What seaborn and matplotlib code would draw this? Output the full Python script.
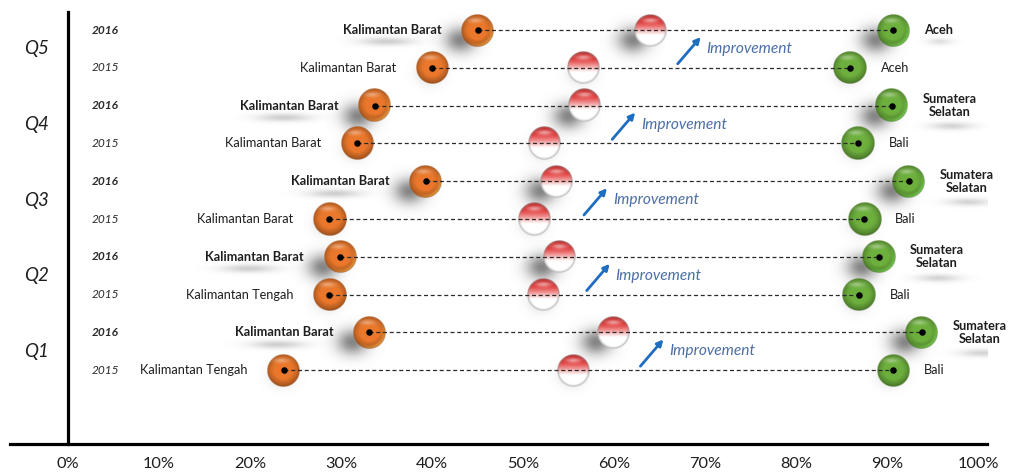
import numpy as np
import pandas as pd
import matplotlib
matplotlib.use("Agg")
import matplotlib.pyplot as plt
import seaborn as sns

# ---- data -------------------------------------------------------------
quarters = ["Q5", "Q4", "Q3", "Q2", "Q1"]
years = ["2016", "2015"]

lowest_2016 = [45.0, 33.7, 39.3, 29.9, 33.1]
lowest_2015 = [40.0, 31.8, 28.7, 28.7, 23.7]
average_2016 = [64.0, 56.8, 53.7, 54.0, 59.9]
average_2015 = [56.6, 52.4, 51.3, 52.2, 55.6]
highest_2016 = [90.7, 90.5, 92.4, 89.1, 93.8]
highest_2015 = [85.9, 86.8, 87.5, 86.9, 90.7]

lowest_name_2016 = ["Kalimantan Barat"] * 5
lowest_name_2015 = ["Kalimantan Barat", "Kalimantan Barat", "Kalimantan Barat",
                    "Kalimantan Tengah", "Kalimantan Tengah"]
highest_name_2016 = ["Aceh", "Sumatera\nSelatan", "Sumatera\nSelatan",
                     "Sumatera\nSelatan", "Sumatera\nSelatan"]
highest_name_2015 = ["Aceh", "Bali", "Bali", "Bali", "Bali"]

improvement_label = "Improvement"
x_ticks = [0, 10, 20, 30, 40, 50, 60, 70, 80, 90, 100]
x_tick_labels = ["0%", "10%", "20%", "30%", "40%", "50%", "60%", "70%", "80%", "90%", "100%"]

# ---- style ------------------------------------------------------------
sns.set_theme(style="white")
plt.rcParams["font.family"] = ["Lato", "DejaVu Sans"]

ORANGE = np.array([0.92, 0.47, 0.17])
GREEN = np.array([0.43, 0.69, 0.24])
RED = np.array([0.88, 0.15, 0.15])
TEXT = "#1e1e1e"

# pixel -> data conversion (percent per pixel, rows per pixel)
PX_X = 100 / 910
PX_Y = 1 / 37.8
R_BALL = 16.5  # pixels

# ---- tidy frame -------------------------------------------------------
records = []
for qi, q in enumerate(quarters):
    per_year = [
        ("2016", lowest_2016[qi], average_2016[qi], highest_2016[qi],
         lowest_name_2016[qi], highest_name_2016[qi]),
        ("2015", lowest_2015[qi], average_2015[qi], highest_2015[qi],
         lowest_name_2015[qi], highest_name_2015[qi]),
    ]
    for yi, (yr, lo, av, hi, lon, hin) in enumerate(per_year):
        records.append(dict(row=2 * qi + yi, quarter=q, year=yr, low=lo, mid=av,
                            high=hi, low_name=lon, high_name=hin))
df = pd.DataFrame(records)
points = df.melt(id_vars=["row", "year"], value_vars=["low", "mid", "high"],
                 var_name="kind", value_name="value")


def ball_image(kind, year, n=96):
    yy, xx = np.mgrid[-1:1:n * 1j, -1:1:n * 1j]
    r = np.hypot(xx, yy)
    alpha = np.clip((1 - r) * n / 2.4, 0, 1)
    if kind == "mid":
        t = (yy + 1) / 2
        w = np.clip((0.64 - t) / 0.42, 0, 1)[..., None]
        top = RED * (0.85 + 0.15 * np.clip(t / 0.3, 0, 1))[..., None]
        rgb = w * top + (1 - w) * np.ones(3)
        hl = (np.exp(-((xx / 0.5) ** 2 + ((yy + 0.62) / 0.16) ** 2)) * 0.55)[..., None]
        rgb = rgb * (1 - hl) + hl
        rim = (np.clip((r - 0.84) / 0.16, 0, 1) * 0.7)[..., None]
        rgb = rgb * (1 - rim) + rim * np.array([0.55, 0.55, 0.55])
    else:
        base = ORANGE if kind == "low" else GREEN
        shade = 1 - 0.28 * np.clip((r - 0.5) / 0.5, 0, 1) ** 1.6
        shade = shade - 0.10 * np.clip(yy, 0, 1) * (r > 0.6)
        rgb = base * shade[..., None]
        if year == "2016":
            ang = np.clip((xx + yy) / np.maximum(r, 1e-6) / 1.4, 0, 1)
            rl = (np.clip((r - 0.74) / 0.16, 0, 1) * (r < 0.97) * ang * 0.55)[..., None]
            light = np.minimum(base + np.array([0.08, 0.25, 0.12]), 1)
            rgb = rgb * (1 - rl) + rl * light
        hl = (np.exp(-(((xx + 0.15) / 0.45) ** 2 + ((yy + 0.62) / 0.14) ** 2)) * 0.35)[..., None]
        rgb = rgb * (1 - hl) + hl
    img = np.dstack([np.clip(rgb, 0, 1), alpha])
    return img


def blob_image(amax, n=80, gray=0.4):
    yy, xx = np.mgrid[-3:3:n * 1j, -3:3:n * 1j]
    a = amax * np.exp(-0.5 * (xx ** 2 + yy ** 2))
    img = np.zeros((n, n, 4))
    img[..., :3] = gray
    img[..., 3] = a
    return img


def put_blob(ax, cx, cy, sx, sy, amax, z=1):
    ax.imshow(blob_image(amax), extent=(cx - 3 * sx * PX_X, cx + 3 * sx * PX_X,
                                        cy + 3 * sy * PX_Y, cy - 3 * sy * PX_Y),
              aspect="auto", interpolation="bilinear", zorder=z)


# ---- figure -----------------------------------------------------------
fig = plt.figure(figsize=(10.1, 4.72), dpi=100)
ax = fig.add_axes([10 / 1010, 28 / 472, 977 / 1010, 444 / 472])

LOW_GAP, HIGH_GAP = 36, 31      # label offsets from ball centres, pixels
LOW_W = 98                      # approximate width of the lowest-value names, pixels

# drop shadows under the balls
for _, p in points.iterrows():
    if p.year == "2016":
        put_blob(ax, p.value - 17 * PX_X, p.row + 10 * PX_Y, 11, 9, 0.8)
    else:
        put_blob(ax, p.value - 2 * PX_X, p.row + 5 * PX_Y, 9, 8, 0.25)

# soft reflections under the 2016 region names
for _, d in df[df.year == "2016"].iterrows():
    put_blob(ax, d.low - (LOW_GAP + LOW_W / 2 + 6) * PX_X, d.row + 12 * PX_Y, 19, 2.8, 0.32)
    if "\n" in d.high_name:
        put_blob(ax, d.high + (HIGH_GAP + 28) * PX_X, d.row + 21 * PX_Y, 15, 2.6, 0.28)
    else:
        put_blob(ax, d.high + (HIGH_GAP + 16) * PX_X, d.row + 12 * PX_Y, 9, 2.4, 0.2)

# glossy balls
for _, p in points.iterrows():
    ax.imshow(ball_image(p.kind, p.year),
              extent=(p.value - R_BALL * PX_X, p.value + R_BALL * PX_X,
                      p.row + R_BALL * PX_Y, p.row - R_BALL * PX_Y),
              aspect="auto", interpolation="bilinear", zorder=3)

# dashed connectors from lowest to highest
ax.hlines(df.row, df.low, df.high, colors="#2a2a2a", linestyles=(0, (3.2, 2.2)),
          linewidth=0.9, zorder=4)

# centre dots on lowest / highest values
sns.scatterplot(data=points[points.kind != "mid"], x="value", y="row", color="black",
                s=22, linewidth=0, legend=False, ax=ax, zorder=5)

# region names
for _, d in df.iterrows():
    w = "bold" if d.year == "2016" else "normal"
    ax.text(d.low - LOW_GAP * PX_X, d.row, d.low_name, ha="right", va="center",
            fontsize=9.2, fontweight=w, color=TEXT, zorder=6)
    ax.text(d.high + HIGH_GAP * PX_X, d.row, d.high_name, ha="left", va="center",
            multialignment="center", fontsize=9.2, fontweight=w, color=TEXT,
            linespacing=1.1, zorder=6)
    ax.text(4.07, d.row, d.year, ha="center", va="center", fontsize=8.6,
            fontstyle="italic", fontweight=w, color="#2a2a2a")

# quarter labels and improvement arrows
for qi, q in enumerate(quarters):
    ax.text(-3.5, 2 * qi + 0.5, q, ha="center", va="center", fontsize=13.5,
            fontstyle="italic", color=TEXT)
    tail_x = average_2016[qi] + 3.0
    tail_y = 2 * qi + 1 - 4 * PX_Y
    head = (tail_x + 23 * PX_X, 2 * qi + 7 * PX_Y)
    ax.annotate("", xy=head, xytext=(tail_x, tail_y),
                arrowprops=dict(arrowstyle="-|>", color="#1f6dc0", lw=2.0,
                                mutation_scale=9, shrinkA=0, shrinkB=0), zorder=6)
    ax.text(tail_x + 29 * PX_X, 2 * qi + 0.5, improvement_label, ha="left", va="center",
            fontsize=11.2, fontstyle="italic", color="#4a6ea6", zorder=6)

# axes
ax.set_xlim((10 - 68) * PX_X, (987 - 68) * PX_X)
ax.set_ylim((444 - 30) * PX_Y, -30 * PX_Y)
for s in ["top", "right"]:
    ax.spines[s].set_visible(False)
ax.spines["left"].set_position(("data", 0))
ax.spines["left"].set_bounds((444 - 30) * PX_Y, (12 - 30) * PX_Y)
for s in ["left", "bottom"]:
    ax.spines[s].set_color("black")
    ax.spines[s].set_linewidth(2.3)
ax.set_xticks(x_ticks, x_tick_labels)
ax.set_yticks([])
ax.tick_params(axis="x", length=0, pad=9, labelsize=11.8, labelcolor=TEXT)
ax.set_xlabel("")
ax.set_ylabel("")
ax.set_facecolor("white")
fig.patch.set_facecolor("white")

fig.savefig("out.png", dpi=100)
